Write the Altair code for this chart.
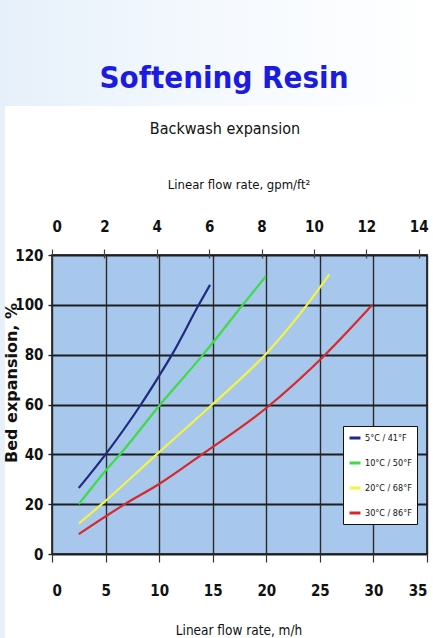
import altair as alt
import pandas as pd

# Backwash expansion curves: linear flow rate (m/h) vs bed expansion (%)
series_labels = ["5°C / 41°F", "10°C / 50°F", "20°C / 68°F", "30°C / 86°F"]
series_colors = ["#1f2a80", "#3ddc44", "#f4f442", "#d8282c"]

rate_5c = [2.5, 5.0, 8.3, 10.0, 11.2, 13.7, 14.75]
exp_5c = [26.5, 40, 60, 71.5, 80, 100, 108]

rate_10c = [2.5, 5.0, 6.35, 10.1, 14.1, 17.8, 19.95]
exp_10c = [20, 33.4, 40, 60, 80, 100, 111.4]

rate_20c = [2.5, 4.64, 9.77, 14.96, 19.9, 23.8, 25.9]
exp_20c = [12.2, 20, 40, 60, 80, 100, 112.3]

rate_30c = [2.5, 6.8, 10.0, 14.0, 20.0, 25.5, 29.9]
exp_30c = [8, 20, 28.1, 40, 58.6, 80, 100]

x_ticks_mh = [0, 5, 10, 15, 20, 25, 30, 35]
x_ticks_gpm = [0, 2, 4, 6, 8, 10, 12, 14]
y_ticks = [0, 20, 40, 60, 80, 100, 120]
MH_PER_GPM_FT2 = 2.4448  # 1 gpm/ft² expressed in m/h

rows = []
for label, rates, exps in zip(series_labels,
                              [rate_5c, rate_10c, rate_20c, rate_30c],
                              [exp_5c, exp_10c, exp_20c, exp_30c]):
    for r, e in zip(rates, exps):
        rows.append({"series": label, "rate": r, "expansion": e})
df = pd.DataFrame(rows)

NARROW = "'Liberation Sans Narrow', 'DejaVu Sans Condensed', sans-serif"
W, H = 375, 299
one = pd.DataFrame({"k": [0]})

# page decoration around the white chart panel
band = alt.Chart(one).mark_rect(
    fill=alt.Gradient(
        gradient="linear",
        stops=[alt.GradientStop(color="#e6f0fa", offset=0),
               alt.GradientStop(color="#f6fafe", offset=0.55),
               alt.GradientStop(color="#ffffff", offset=1)],
        x1=0, x2=1, y1=0, y2=0),
).encode(x=alt.value(-52), x2=alt.value(381), y=alt.value(-255), y2=alt.value(-149))

strip = alt.Chart(one).mark_rect(fill="#e8f1fa").encode(
    x=alt.value(-52), x2=alt.value(-47), y=alt.value(-149), y2=alt.value(383))

lines = alt.Chart(df).mark_line(interpolate="monotone", strokeWidth=2.2).encode(
    x=alt.X("rate:Q",
            scale=alt.Scale(domain=[0, 35], nice=False),
            axis=alt.Axis(orient="bottom", values=x_ticks_mh, title=None,
                          grid=True, gridColor="#2a2a2a", gridWidth=1.4,
                          domain=False, tickSize=8, tickColor="#333333", tickWidth=1.2,
                          labelFont=NARROW, labelFontWeight="bold", labelFontSize=15,
                          labelColor="#111111", labelBaseline="alphabetic",
                          labelPadding=33)),
    y=alt.Y("expansion:Q",
            scale=alt.Scale(domain=[0, 120], nice=False),
            axis=alt.Axis(values=y_ticks, title=None,
                          grid=True, gridColor="#1e1e1e", gridWidth=1.8,
                          domain=False, tickSize=4, tickColor="#222222", tickWidth=1.4,
                          labelFont=NARROW, labelFontWeight="bold", labelFontSize=15,
                          labelColor="#111111", labelPadding=5)),
    color=alt.Color("series:N",
                    scale=alt.Scale(domain=series_labels, range=series_colors),
                    legend=alt.Legend(title=None, orient="none", legendX=291, legendY=171,
                                      symbolType="stroke", symbolSize=120,
                                      symbolStrokeWidth=3, labelFont=NARROW,
                                      labelFontSize=9, labelColor="#111111",
                                      labelOffset=3, rowPadding=12, padding=5,
                                      fillColor="white", strokeColor="#111111",
                                      cornerRadius=0)),
    order=alt.Order("rate:Q"),
)

# secondary top axis in gpm/ft²
gpm_df = pd.DataFrame({"gpm": x_ticks_gpm})
top_axis = alt.Chart(gpm_df).mark_point(opacity=0).encode(
    x=alt.X("gpm:Q",
            scale=alt.Scale(domain=[0, 35 / MH_PER_GPM_FT2], nice=False, zero=True),
            axis=alt.Axis(orient="top", values=x_ticks_gpm, title=None, grid=False,
                          domain=False, offset=-3, tickSize=9, tickColor="#444444",
                          tickWidth=1.2, labelFont=NARROW, labelFontWeight="bold",
                          labelFontSize=15, labelColor="#111111",
                          labelBaseline="alphabetic", labelPadding=18)),
)


def label(text, x, y, size, weight="normal", color="#111111", font=NARROW, angle=0):
    return alt.Chart(one).mark_text(
        text=text, font=font, fontSize=size, fontWeight=weight, color=color,
        align="center", baseline="alphabetic", angle=angle,
    ).encode(x=alt.value(x), y=alt.value(y))


title_main = label("Softening Resin", 172, -167, 31, weight="bold", color="#1c1ce0")
title_sub = label("Backwash expansion", 173, -121, 16)
title_top = label("Linear flow rate, gpm/ft²", 187, -66, 13)
title_bottom = label("Linear flow rate, m/h", 187, 380, 13.5)
title_y = alt.Chart(one).mark_text(
    text="Bed expansion, %", font="DejaVu Sans", fontSize=16, fontWeight="bold",
    color="#111111", align="center", baseline="middle", angle=270,
).encode(x=alt.value(-40), y=alt.value(128))

chart = alt.layer(
    band, strip, lines, top_axis,
    title_main, title_sub, title_top, title_bottom, title_y,
).resolve_scale(x="independent").properties(
    width=W, height=H,
    autosize=alt.AutoSizeParams(type="none"),
    padding={"left": 52, "top": 255, "right": 6, "bottom": 84},
    background="white",
).configure_view(
    fill="#a7c7ec", stroke="#151515", strokeWidth=1.6,
)

chart.save("out.html", embed_options={"renderer": "svg", "actions": False})
